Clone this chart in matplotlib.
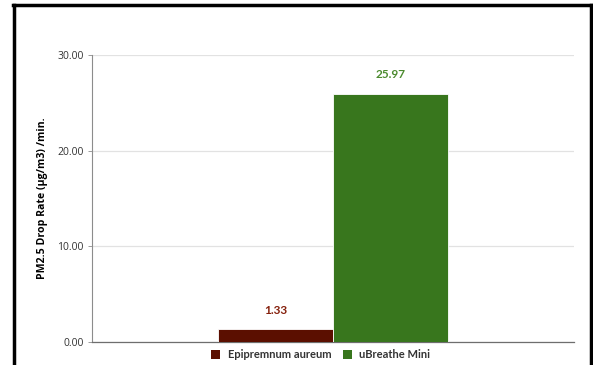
import matplotlib.pyplot as plt
from matplotlib.lines import Line2D
from matplotlib.patches import Patch

series = ["Epipremnum aureum", "uBreathe Mini"]
values = [1.33, 25.97]
bar_colors = ["#5b0f00", "#38761d"]
label_colors = ["#85200c", "#4b8a2e"]
yticks = [0, 10, 20, 30]

fig = plt.figure(figsize=(5.93, 3.65), dpi=100)
ax = fig.add_axes([0.1551, 0.063, 0.8129, 0.786])

width = 0.477
offsets = [-0.2386, 0.2386]
for off, v, c, lc in zip(offsets, values, bar_colors, label_colors):
    ax.bar(off, v, width=width, color=c, edgecolor="white", linewidth=0.6, zorder=3)
    ax.text(off, v + 1.4, f"{v:.2f}", ha="center", va="bottom", color=lc,
            fontsize=8.5, fontweight="bold", family="Lato")

ax.set_xlim(-1, 1)
ax.set_ylim(0, 30)
ax.set_yticks(yticks)
ax.set_yticklabels([f"{t:.2f}" for t in yticks], fontsize=7.5, color="#333333",
                   family="Open Sans")
ax.set_xticks([])
ax.grid(axis="y", color="#e2e2e2", linewidth=0.9, zorder=0)
for s in ["top", "right"]:
    ax.spines[s].set_visible(False)
ax.spines["left"].set_color("#8c8c8c")
ax.spines["bottom"].set_color("#6e6e6e")
ax.spines["left"].set_linewidth(0.8)
ax.spines["bottom"].set_linewidth(0.9)
ax.tick_params(axis="y", length=3, width=0.6, color="#8c8c8c", pad=3)

ax.set_ylabel("PM2.5 Drop Rate (µg/m3) /min.", fontsize=7.6, fontweight="bold",
              family="Open Sans", labelpad=7)

handles = [Patch(facecolor=c, label=s) for c, s in zip(bar_colors, series)]
leg = fig.legend(handles=handles, loc="center", bbox_to_anchor=(0.541, 0.028),
                 ncol=2, frameon=False, handlelength=0.8, handleheight=0.8,
                 handletextpad=0.7, columnspacing=1.0,
                 prop={"family": "Lato", "weight": "bold", "size": 8})
for t in leg.get_texts():
    t.set_color("#333333")

# black frame around the figure (no bottom edge)
fig.add_artist(Line2D([0.024, 0.024], [0, 0.985], color="black", lw=2.5,
                      transform=fig.transFigure))
fig.add_artist(Line2D([0.022, 0.997], [0.985, 0.985], color="black", lw=2.5,
                      transform=fig.transFigure))
fig.add_artist(Line2D([0.997, 0.997], [0, 0.985], color="black", lw=2.5,
                      transform=fig.transFigure))

fig.savefig("out.png", dpi=100)
